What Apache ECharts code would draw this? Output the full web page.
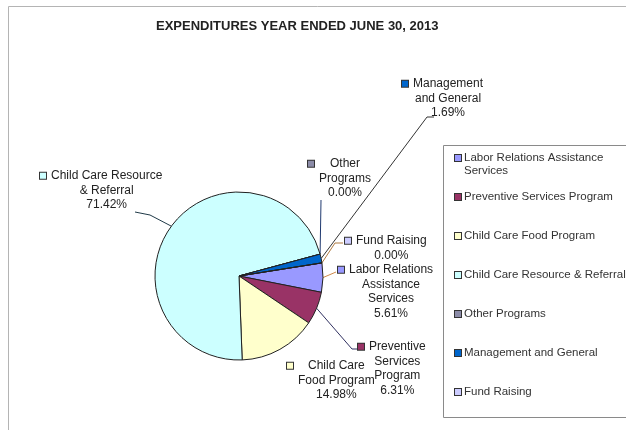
<!DOCTYPE html>
<html><head><meta charset="utf-8">
<script src="https://cdn.jsdelivr.net/npm/echarts@6/dist/echarts.min.js"></script>
<style>html,body{margin:0;padding:0;background:#fff;overflow:hidden}#c{width:626px;height:430px}</style>
</head><body><div id="c"></div>
<script>
// ---- data ----
const categories = ['Labor Relations Assistance Services', 'Preventive Services Program', 'Child Care Food Program', 'Child Care Resource & Referral', 'Other Programs', 'Management and General', 'Fund Raising'];
const values = [5.61, 6.31, 14.98, 71.42, 0.00, 1.69, 0.00];
const labelLines = [['Labor Relations', 'Assistance', 'Services'], ['Preventive', 'Services', 'Program'], ['Child Care', 'Food Program'], ['Child Care Resource', '& Referral'], ['Other', 'Programs'], ['Management', 'and General'], ['Fund Raising']];
const legendLines = [['Labor Relations Assistance', 'Services'], ['Preventive Services Program'], ['Child Care Food Program'], ['Child Care Resource & Referral'], ['Other Programs'], ['Management and General'], ['Fund Raising']];
const titleText = 'EXPENDITURES YEAR ENDED JUNE 30, 2013';

// ---- styles / layout ----
const colors = ['#9999FF', '#993366', '#FFFFCC', '#CCFFFF', '#8C8CA8', '#0066CC', '#CCCCFF'];
const leaderColors = ['#d08a4a', '#303060', null, '#203a48', '#203a70', '#333333', '#b07a40'];
const labelBoxes = [[338, 262.5], [358, 339.5], [287, 358.5], [40, 168.5], [308, 156.5], [402, 76.5], [345, 233.5]];
const leaderBends = [[[336, 272]], [[352, 349], [357, 349]], null, [[150, 215], [135, 212]], [[321, 200]], [[427, 117], [434, 117]], [[335, 243], [343, 243]]];
const FONT = '"Liberation Sans", Arial, Helvetica, sans-serif';

const pieRich = {
  g: { width: 5, align: 'left' },
  s: { width: 11, align: 'left' },
  t: { fontFamily: FONT, fontSize: 12, lineHeight: 14.5, color: '#222', align: 'center' }
};
const legRich = {
  lg: { width: 3, align: 'left' },
  ls: { width: 9, align: 'left' },
  lt: { fontFamily: FONT, fontSize: 11.5, lineHeight: 13, color: '#333', align: 'left' }
};
colors.forEach((c, i) => {
  pieRich['m' + i] = { width: 6, height: 6, backgroundColor: c, borderColor: '#333', borderWidth: 1, align: 'left' };
  legRich['lm' + i] = { width: 6, height: 6, backgroundColor: c, borderColor: '#333', borderWidth: 1, align: 'left' };
});

const chart = echarts.init(document.getElementById('c'), null, { renderer: 'canvas' });
chart.setOption({
  animation: false,
  backgroundColor: '#fff',
  graphic: [{
    type: 'polyline', silent: true, z: -10,
    shape: { points: [[8.5, 440], [8.5, 6.5], [640, 6.5]] },
    style: { fill: 'none', stroke: '#b4b4b4', lineWidth: 1 }
  }, {
    type: 'polyline', silent: true, z: -5,
    shape: { points: [[640, 145.5], [443.5, 145.5], [443.5, 417.5], [640, 417.5]] },
    style: { fill: 'none', stroke: '#8a8a8a', lineWidth: 1 }
  }],
  title: {
    text: titleText, left: 156, top: 19, padding: 0,
    textStyle: { fontFamily: FONT, fontSize: 13, fontWeight: 'bold', color: '#222', lineHeight: 15 }
  },
  legend: {
    data: categories,
    orient: 'vertical', left: 443, top: 145,
    padding: [6.5, 0, 6.5, 7],
    itemGap: 13, itemWidth: 0, itemHeight: 13, icon: 'none',
    borderWidth: 0,
    selectedMode: false,
    formatter: function (name) {
      const i = categories.indexOf(name);
      const ls = legendLines[i];
      let s = '{lm' + i + '|}{lg|}{lt|' + ls[0] + '}';
      s += '\n' + (ls[1] ? '{ls|}{lt|' + ls[1] + '}' : '{lt| }');
      return s;
    },
    textStyle: { fontFamily: FONT, fontSize: 11.5, lineHeight: 13, color: '#333', rich: legRich }
  },
  series: [{
    type: 'pie',
    center: [239, 276],
    radius: 84,
    startAngle: 9,
    clockwise: true,
    avoidLabelOverlap: false,
    emphasis: { disabled: true },
    itemStyle: { borderColor: '#222', borderWidth: 1 },
    label: {
      show: true, position: 'outside',
      fontFamily: FONT, fontSize: 12, color: '#222',
      formatter: function (p) {
        const i = p.dataIndex;
        const ls = labelLines[i];
        let s = '{m' + i + '|}{g|}{t|' + ls[0] + '}';
        for (let k = 1; k < ls.length; k++) s += '\n{s|}{t|' + ls[k] + '}';
        s += '\n{s|}{t|' + values[i].toFixed(2) + '%}';
        return s;
      },
      rich: pieRich
    },
    labelLine: { show: true, length: 10, length2: 10, lineStyle: { width: 1 } },
    labelLayout: function (params) {
      const i = params.dataIndex;
      const pos = labelBoxes[i];
      const out = { x: pos[0], y: pos[1], align: 'left', verticalAlign: 'top' };
      if (leaderBends[i] && params.labelLinePoints) {
        const pts = [params.labelLinePoints[0]].concat(leaderBends[i]);
        while (pts.length < 3) pts.push(pts[pts.length - 1]);
        out.labelLinePoints = pts;
      }
      return out;
    },
    data: categories.map((n, i) => ({
      name: n,
      value: values[i],
      itemStyle: { color: colors[i] },
      labelLine: { show: !!leaderBends[i], lineStyle: { color: leaderColors[i] || '#333', width: 1 } }
    }))
  }]
});
</script>
</body></html>
